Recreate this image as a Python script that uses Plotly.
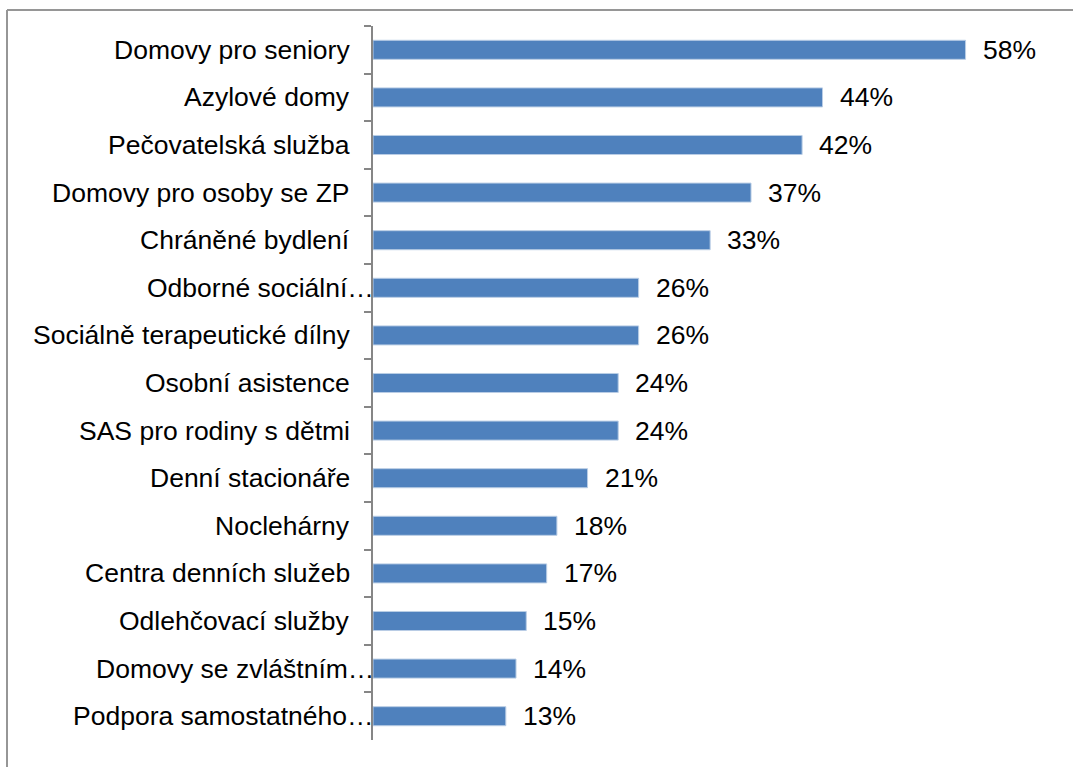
import plotly.graph_objects as go

# Services and share of respondents (%), listed top to bottom
categories = [
    "Domovy pro seniory",
    "Azylové domy",
    "Pečovatelská služba",
    "Domovy pro osoby se ZP",
    "Chráněné bydlení",
    "Odborné sociální…",
    "Sociálně terapeutické dílny",
    "Osobní asistence",
    "SAS pro rodiny s dětmi",
    "Denní stacionáře",
    "Noclehárny",
    "Centra denních služeb",
    "Odlehčovací služby",
    "Domovy se zvláštním…",
    "Podpora samostatného…",
]
values = [58, 44, 42, 37, 33, 26, 26, 24, 24, 21, 18, 17, 15, 14, 13]
value_labels = [f"{v}%" for v in values]

W, H = 1073, 767
ML, MR, MT, MB = 373, 87, 26, 27
pw, ph = W - ML - MR, H - MT - MB

FONT = "Liberation Sans, Arial, sans-serif"
FSIZE = 26.5

fig = go.Figure(
    go.Bar(
        y=categories,
        x=values,
        orientation="h",
        marker=dict(color="#4F81BD", line=dict(color="#B9CDE5", width=1)),
        width=0.4,
        hoverinfo="skip",
    )
)

# value labels to the right of each bar
for cat, v, lab in zip(categories, values, value_labels):
    fig.add_annotation(
        x=v, y=cat, xref="x", yref="y",
        text=lab, showarrow=False,
        xanchor="left", yanchor="middle",
        xshift=15,
        font=dict(family=FONT, size=FSIZE, color="#000000"),
    )

# category labels; truncated ones run right up to the axis line
for cat in categories:
    fig.add_annotation(
        x=0, y=cat, xref="paper", yref="y",
        text=cat, showarrow=False,
        xanchor="right", yanchor="middle",
        xshift=3 if cat.endswith("…") else -21,
        font=dict(family=FONT, size=FSIZE, color="#000000"),
    )

# outer chart frame (top and left edges)
def px_x(p):
    return (p - ML) / pw

def px_y(p):
    return (H - MB - p) / ph

frame = dict(color="#969696", width=2)
fig.add_shape(type="line", xref="paper", yref="paper",
              x0=px_x(7), x1=px_x(W + 5), y0=px_y(10), y1=px_y(10), line=frame)
fig.add_shape(type="line", xref="paper", yref="paper",
              x0=px_x(7), x1=px_x(7), y0=px_y(10), y1=px_y(H + 5), line=frame)

fig.update_layout(
    width=W,
    height=H,
    margin=dict(l=ML, r=MR, t=MT, b=MB, pad=0),
    paper_bgcolor="white",
    plot_bgcolor="white",
    showlegend=False,
    bargap=0.6,
    xaxis=dict(
        range=[0, 60],
        visible=False,
        fixedrange=True,
    ),
    yaxis=dict(
        type="category",
        autorange="reversed",
        showline=True,
        linecolor="#868686",
        linewidth=2,
        ticks="outside",
        tickson="boundaries",
        ticklen=7,
        tickwidth=2,
        tickcolor="#868686",
        showgrid=False,
        showticklabels=False,
        fixedrange=True,
    ),
    font=dict(family=FONT),
)

fig.write_html("out.html")
